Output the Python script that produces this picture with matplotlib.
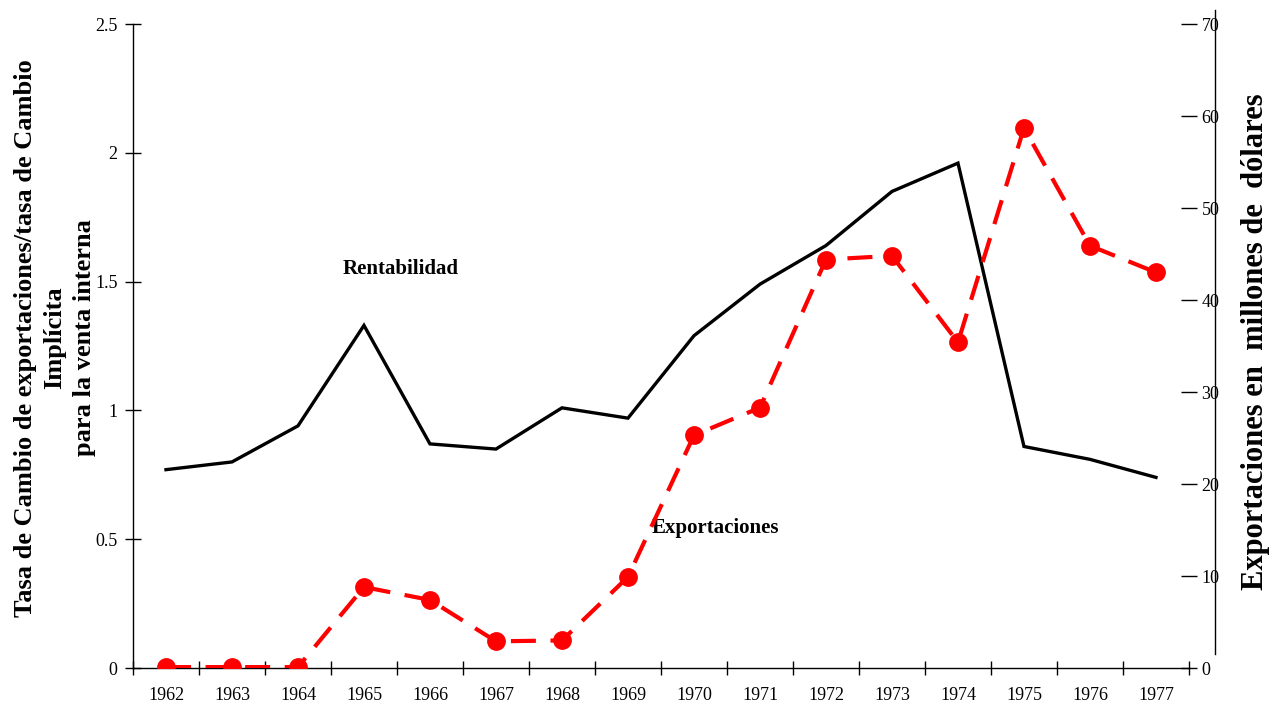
import matplotlib
matplotlib.use("Agg")
import matplotlib.pyplot as plt
from matplotlib.lines import Line2D

plt.rcParams['font.family'] = ['Liberation Serif', 'DejaVu Serif']

# data
years = ['1962', '1963', '1964', '1965', '1966', '1967', '1968', '1969',
         '1970', '1971', '1972', '1973', '1974', '1975', '1976', '1977']
rentabilidad = [0.77, 0.80, 0.94, 1.33, 0.87, 0.85, 1.01, 0.97,
                1.29, 1.49, 1.64, 1.85, 1.96, 0.86, 0.81, 0.74]
exportaciones = [0.1, 0.1, 0.1, 8.8, 7.4, 2.9, 3.0, 9.9,
                 25.3, 28.3, 44.4, 44.8, 35.4, 58.7, 45.9, 43.0]

left_ticks = [0, 0.5, 1, 1.5, 2, 2.5]
left_labels = ['0', '0.5', '1', '1.5', '2', '2.5']
right_ticks = [0, 10, 20, 30, 40, 50, 60, 70]

fig = plt.figure(figsize=(12.7, 7.04), dpi=100)
ax = fig.add_axes([0.1047, 0.0511, 0.8315, 0.9148])

x = list(range(len(years)))

# Rentabilidad on the left axis
ax.plot(x, rentabilidad, color='black', linewidth=2.4, solid_joinstyle='miter')

ax.set_xlim(-0.5, len(years) - 0.5)
ax.set_ylim(0, 2.5)
ax.set_yticks(left_ticks)
ax.set_yticklabels(left_labels)

# category boundaries as major ticks, labels centred on minor ticks
ax.set_xticks([i - 0.5 for i in range(len(years) + 1)])
ax.set_xticklabels([])
ax.set_xticks(x, minor=True)
ax.set_xticklabels(years, minor=True)
ax.tick_params(axis='x', which='major', direction='inout', length=10, width=1)
ax.tick_params(axis='x', which='minor', length=0, pad=14, labelsize=13)
ax.tick_params(axis='y', direction='inout', length=12, width=1, pad=5, labelsize=13)

for side in ['top', 'right']:
    ax.spines[side].set_visible(False)
ax.spines['left'].set_linewidth(1)
ax.spines['bottom'].set_linewidth(1)

# left axis title, three centred lines
fig.text(0.0433, 0.52,
         'Tasa de Cambio de exportaciones/tasa de Cambio\nImplícita\npara la venta interna',
         rotation=90, fontsize=19, fontweight='bold', ha='center', va='center',
         multialignment='center', linespacing=1.38)

# Exportaciones on the right axis
ax2 = ax.twinx()
ax2.plot(x, exportaciones, color='#ff0000', linewidth=3, linestyle=(0, (6, 3.5)),
         marker='o', markersize=12.5, markerfacecolor='#ff0000', markeredgecolor='#ff0000')
ax2.set_ylim(0, 70)
ax2.set_yticks(right_ticks)
ax2.tick_params(axis='y', direction='inout', length=12, width=1, pad=3, labelsize=13)
for side in ['top', 'right', 'left', 'bottom']:
    ax2.spines[side].set_visible(False)

fig.text(0.9885, 0.514, 'Exportaciones en  millones de  dólares', rotation=90,
         fontsize=22, fontweight='bold', ha='center', va='center')

# the separate vertical line Excel draws for the secondary axis
fig.add_artist(Line2D([0.9567, 0.9567], [0.071, 0.986], transform=fig.transFigure,
                      color='black', linewidth=1))

ax.text(3.55, 1.55, 'Rentabilidad', fontsize=15, fontweight='bold', ha='center', va='center')
ax.text(8.32, 0.545, 'Exportaciones', fontsize=15, fontweight='bold', ha='center', va='center')

fig.savefig('out.png', dpi=100)
